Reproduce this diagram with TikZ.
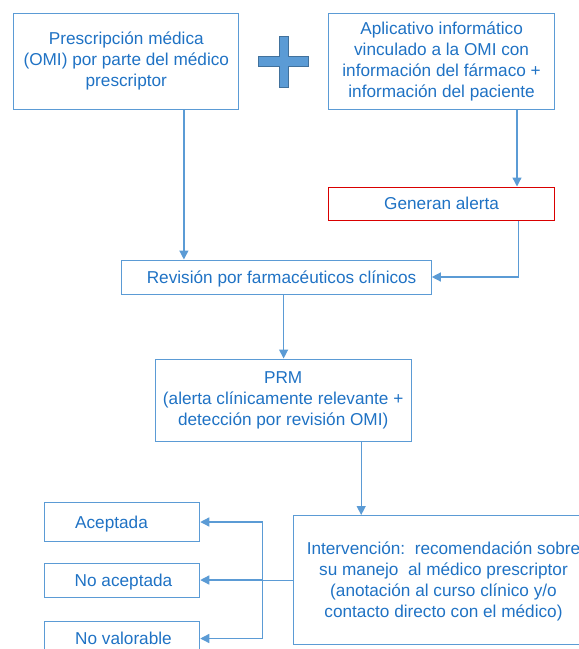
\documentclass[tikz,border=0pt]{standalone}
\usepackage{fontspec}
\setmainfont{Liberation Sans}
\usetikzlibrary{arrows.meta,positioning}
\definecolor{boxblue}{HTML}{5B9BD5}
\definecolor{txtblue}{HTML}{1F72C4}
\definecolor{plusline}{HTML}{41719C}
\definecolor{alertred}{HTML}{D90000}
\tikzset {
	box/.style={rectangle, draw=boxblue, line width=1pt, text=txtblue, align=center,
					font=\fontsize{17.2}{21}\selectfont, inner sep=0pt},
	oneline/.style={box, text height=12.3pt, text depth=0pt},
	alertbox/.style={oneline, draw=alertred},
	txt/.style={text=txtblue, align=center, font=\fontsize{17.2}{21}\selectfont, inner sep=0pt},
	link/.style={draw=boxblue, line width=1.3pt},
	arr/.style={link, -{Triangle[length=9pt,width=9pt]}}
}
\begin{document}
\begin{tikzpicture}[x=1pt, y=-1pt]
	\useasboundingbox (0,0) rectangle (579,649);
	\node [box, minimum width=225, minimum height=96] (presc) at (126.3,61)
		{Prescripción médica\\(OMI) por parte del médico\\prescriptor};
	\node [box, minimum width=226, minimum height=96] (aplic) at (441.6,61)
		{Aplicativo informático\\vinculado a la OMI con\\información del fármaco +\\información del paciente};
	\node [alertbox, minimum width=226, minimum height=33] (alerta) at (441.6,203.5) {Generan alerta};
	\node [oneline, minimum width=309.4, minimum height=34] (revis) at (276.6,277)
		{\hspace{10pt}Revisión por farmacéuticos clínicos};
	\node [box, minimum width=256.3, minimum height=82] (prm) at (283.2,400)
		{PRM\\(alerta clínicamente relevante +\\detección por revisión OMI)};
	\node [box, minimum width=300, minimum height=129, anchor=north west] (interv) at (292.8,515) {};
	\node [txt] (intervtxt) at (443.5,581.5)
		{Intervención:\ \ recomendación sobre\\su manejo\ \ al médico prescriptor\\(anotación al curso clínico y/o\\contacto directo con el médico)};
	\node [oneline, minimum width=155.5, minimum height=39] (acept) at (122,522) {Aceptada\hspace{21pt}};
	\node [oneline, minimum width=155.5, minimum height=34] (noacept) at (122,580) {\hspace{3pt}No aceptada};
	\node [oneline, minimum width=155.5, minimum height=34] (noval) at (122,638.5) {\hspace{3pt}No valorable};

	% plus sign
	\filldraw [fill=boxblue, draw=plusline, line width=1pt]
		(279.5,36) -- (288.8,36) -- (288.8,56) -- (308.3,56) -- (308.3,66) -- (288.8,66) -- (288.8,87)
		-- (279.5,87) -- (279.5,66) -- (258.5,66) -- (258.5,56) -- (279.5,56) -- cycle;

	% connectors
	\draw [arr] ([xshift=57.6]presc.south) -- ([xshift=57.6]presc.south |- revis.north);
	\draw [arr] ([xshift=75.4]aplic.south) -- ([xshift=75.4]aplic.south |- alerta.north);
	\draw [arr] ([xshift=77.2]alerta.south) |- (revis.east);
	\draw [arr] ([xshift=7]revis.south) -- ([xshift=7]revis.south |- prm.north);
	\draw [arr] ([xshift=78]prm.south) -- ([xshift=78]prm.south |- interv.north);
	\draw [link, line width=1pt] (interv.west) -- ++(-30,0) coordinate (split);
	\draw [arr] (split) |- (acept.east);
	\draw [arr] (split) -- (noacept.east);
	\draw [arr] (split) |- (noval.east);
\end{tikzpicture}
\end{document}
